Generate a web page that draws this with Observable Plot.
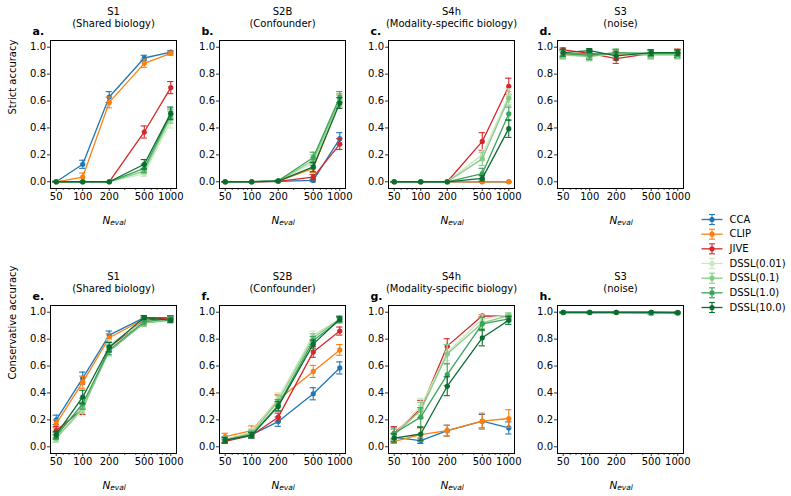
<!DOCTYPE html>
<html>
<head>
<meta charset="utf-8">
<script src="https://cdn.jsdelivr.net/npm/d3@7"></script>
<script src="https://cdn.jsdelivr.net/npm/@observablehq/plot@0.6"></script>
<style>
  body { margin: 0; background: #fff; }
  #fig { position: relative; width: 791px; height: 496px; background: #fff; font-family: "DejaVu Sans", sans-serif; }
  #fig svg { position: absolute; overflow: visible; background: none; }
</style>
</head>
<body>
<div id="fig"></div>
<script>
// Evaluation set sizes (x axis) and methods
const nEval = [50, 100, 200, 500, 1000];
const minorTicks = [60, 70, 80, 90, 300, 400, 600, 700, 800, 900];
const methods = ["CCA", "CLIP", "JIVE", "DSSL(0.01)", "DSSL(0.1)", "DSSL(1.0)", "DSSL(10.0)"];
const methodColors = ["#1f77b4", "#ff7f0e", "#d62728", "#c9e8c1", "#86cc84", "#3ba35a", "#0a6d32"];

const scenarios = ["S1", "S2B", "S4h", "S3"];
const scenarioNotes = ["(Shared biology)", "(Confounder)", "(Modality-specific biology)", "(noise)"];
const panelLetters = [["a.", "b.", "c.", "d."], ["e.", "f.", "g.", "h."]];
const metricLabels = ["Strict accuracy", "Conservative accuracy"];
const yTicks = [0, 0.2, 0.4, 0.6, 0.8, 1.0];

// Strict accuracy: one row per method, columns follow nEval
const strictS1 = [
  [0.0, 0.13, 0.63, 0.92, 0.963],
  [0.0, 0.035, 0.59, 0.88, 0.955],
  [0.0, 0.0, 0.0, 0.37, 0.70],
  [0.0, 0.0, 0.0, 0.06, 0.45],
  [0.0, 0.0, 0.0, 0.08, 0.48],
  [0.0, 0.0, 0.0, 0.10, 0.50],
  [0.0, 0.0, 0.0, 0.13, 0.51]
];
const strictS1Err = [
  [0.005, 0.03, 0.04, 0.02, 0.012],
  [0.005, 0.03, 0.04, 0.03, 0.015],
  [0, 0, 0, 0.045, 0.045],
  [0, 0, 0, 0.02, 0.05],
  [0, 0, 0, 0.02, 0.045],
  [0, 0, 0, 0.03, 0.04],
  [0, 0, 0, 0.035, 0.045]
];
const strictS2B = [
  [0.0, 0.0, 0.003, 0.01, 0.32],
  [0.0, 0.0, 0.005, 0.10, 0.60],
  [0.0, 0.0, 0.003, 0.035, 0.28],
  [0.0, 0.0, 0.005, 0.14, 0.60],
  [0.0, 0.0, 0.005, 0.16, 0.61],
  [0.0, 0.0, 0.008, 0.18, 0.63],
  [0.0, 0.0, 0.005, 0.11, 0.585]
];
const strictS2BErr = [
  [0, 0, 0.003, 0.01, 0.045],
  [0, 0, 0.004, 0.03, 0.045],
  [0, 0, 0.003, 0.02, 0.04],
  [0, 0, 0.004, 0.04, 0.045],
  [0, 0, 0.004, 0.04, 0.045],
  [0, 0, 0.005, 0.04, 0.04],
  [0, 0, 0.004, 0.035, 0.04]
];
const strictS4h = [
  [0, 0, 0, 0, 0],
  [0, 0, 0, 0, 0],
  [0, 0, 0, 0.30, 0.71],
  [0, 0, 0, 0.20, 0.64],
  [0, 0, 0, 0.17, 0.62],
  [0, 0, 0, 0.06, 0.505],
  [0, 0, 0, 0.025, 0.395]
];
const strictS4hErr = [
  [0, 0, 0, 0, 0],
  [0, 0, 0, 0, 0],
  [0, 0, 0, 0.065, 0.06],
  [0, 0, 0, 0.04, 0.05],
  [0, 0, 0, 0.05, 0.05],
  [0, 0, 0, 0.04, 0.05],
  [0, 0, 0, 0.02, 0.065]
];
const strictS3 = [
  [0.95, 0.95, 0.95, 0.95, 0.95],
  [0.95, 0.94, 0.95, 0.94, 0.965],
  [0.98, 0.955, 0.915, 0.955, 0.955],
  [0.94, 0.93, 0.955, 0.94, 0.94],
  [0.945, 0.93, 0.96, 0.945, 0.945],
  [0.955, 0.94, 0.96, 0.955, 0.955],
  [0.96, 0.975, 0.935, 0.96, 0.96]
];
const strictS3Err = [
  [0.03, 0.03, 0.03, 0.03, 0.03],
  [0.03, 0.03, 0.03, 0.03, 0.02],
  [0.015, 0.025, 0.035, 0.025, 0.03],
  [0.03, 0.03, 0.03, 0.03, 0.03],
  [0.03, 0.03, 0.025, 0.03, 0.03],
  [0.025, 0.03, 0.025, 0.025, 0.025],
  [0.025, 0.015, 0.03, 0.02, 0.02]
];

// Conservative accuracy
const consS1 = [
  [0.20, 0.51, 0.83, 0.96, 0.96],
  [0.17, 0.48, 0.81, 0.95, 0.955],
  [0.12, 0.28, 0.74, 0.94, 0.96],
  [0.07, 0.27, 0.76, 0.93, 0.94],
  [0.06, 0.29, 0.71, 0.92, 0.94],
  [0.08, 0.32, 0.72, 0.93, 0.95],
  [0.09, 0.37, 0.74, 0.96, 0.94]
];
const consS1Err = [
  [0.035, 0.045, 0.03, 0.015, 0.015],
  [0.03, 0.045, 0.03, 0.02, 0.015],
  [0.03, 0.04, 0.035, 0.02, 0.015],
  [0.025, 0.04, 0.035, 0.025, 0.02],
  [0.025, 0.04, 0.035, 0.025, 0.02],
  [0.025, 0.04, 0.035, 0.025, 0.02],
  [0.025, 0.05, 0.035, 0.015, 0.015]
];
const consS2B = [
  [0.05, 0.09, 0.187, 0.394, 0.586],
  [0.075, 0.12, 0.35, 0.56, 0.72],
  [0.04, 0.085, 0.22, 0.705, 0.86],
  [0.055, 0.11, 0.36, 0.83, 0.95],
  [0.055, 0.10, 0.34, 0.81, 0.95],
  [0.05, 0.09, 0.31, 0.79, 0.94],
  [0.05, 0.085, 0.30, 0.763, 0.95]
];
const consS2BErr = [
  [0.015, 0.02, 0.035, 0.045, 0.045],
  [0.025, 0.035, 0.04, 0.045, 0.04],
  [0.015, 0.02, 0.03, 0.04, 0.03],
  [0.02, 0.025, 0.04, 0.03, 0.02],
  [0.02, 0.025, 0.04, 0.03, 0.02],
  [0.02, 0.025, 0.04, 0.03, 0.02],
  [0.02, 0.02, 0.035, 0.03, 0.02]
];
const consS4h = [
  [0.07, 0.045, 0.12, 0.19, 0.14],
  [0.04, 0.09, 0.12, 0.19, 0.21],
  [0.10, 0.28, 0.748, 0.973, 0.97],
  [0.09, 0.30, 0.70, 0.95, 0.98],
  [0.09, 0.27, 0.69, 0.92, 0.975],
  [0.10, 0.22, 0.536, 0.913, 0.95],
  [0.065, 0.095, 0.45, 0.81, 0.94]
];
const consS4hErr = [
  [0.03, 0.02, 0.04, 0.05, 0.045],
  [0.015, 0.05, 0.04, 0.06, 0.065],
  [0.05, 0.065, 0.055, 0.01, 0.01],
  [0.04, 0.06, 0.06, 0.03, 0.015],
  [0.04, 0.06, 0.07, 0.04, 0.02],
  [0.04, 0.07, 0.08, 0.05, 0.02],
  [0.03, 0.05, 0.07, 0.06, 0.03]
];
const consS3 = [
  [0.998, 0.998, 0.998, 0.99, 0.995],
  [0.998, 0.998, 0.998, 0.998, 0.997],
  [1.0, 1.0, 1.0, 1.0, 1.0],
  [0.995, 0.995, 0.996, 0.995, 0.99],
  [0.997, 0.997, 0.997, 0.997, 0.993],
  [0.998, 0.998, 0.998, 0.998, 0.996],
  [0.999, 0.999, 0.999, 0.999, 0.997]
];
const consS3Err = [
  [0.004, 0.004, 0.004, 0.008, 0.005],
  [0.004, 0.004, 0.004, 0.004, 0.005],
  [0.001, 0.001, 0.001, 0.001, 0.001],
  [0.006, 0.006, 0.005, 0.006, 0.008],
  [0.004, 0.004, 0.004, 0.004, 0.006],
  [0.003, 0.003, 0.003, 0.003, 0.004],
  [0.002, 0.002, 0.002, 0.002, 0.004]
];

const grid = [
  [[strictS1, strictS1Err], [strictS2B, strictS2BErr], [strictS4h, strictS4hErr], [strictS3, strictS3Err]],
  [[consS1, consS1Err], [consS2B, consS2BErr], [consS4h, consS4hErr], [consS3, consS3Err]]
];

// Panel geometry
const frameW = 126, frameH = 148, colStep = 169, firstLeft = 50;
const rowLayout = [
  { top: 0, height: 240, marginTop: 40 },
  { top: 240, height: 256, marginTop: 65 }
];
const marginL = 50, marginR = 14;
// 5% padding of the log range on each side
const logPad = Math.pow(10, 0.05 * Math.log10(1000 / 50));
const capFactor = 1.085;
const font = "DejaVu Sans";

function panel(means, errs, row, col) {
  const L = rowLayout[row];
  const marks = [
    Plot.axisX({ ticks: minorTicks, tickSize: 2, tickFormat: () => "", label: null, strokeWidth: 0.7 }),
    Plot.axisX({ ticks: nEval, tickSize: 3, tickPadding: 1, tickFormat: d => String(d), label: null, strokeWidth: 0.8 }),
    Plot.axisY({ ticks: yTicks, tickSize: 3, tickPadding: 1.5, tickFormat: d3.format(".1f"), label: null, strokeWidth: 0.8 })
  ];
  methods.forEach((name, m) => {
    const d = nEval.map((n, i) => ({ n, v: means[m][i], e: errs[m][i] }));
    const c = methodColors[m];
    marks.push(
      Plot.line(d, { x: "n", y: "v", stroke: c, strokeWidth: 1.3 }),
      Plot.ruleX(d, { x: "n", y1: r => r.v - r.e, y2: r => r.v + r.e, stroke: c, strokeWidth: 1.1 }),
      Plot.ruleY(d, { y: r => r.v - r.e, x1: r => r.n / capFactor, x2: r => r.n * capFactor, stroke: c, strokeWidth: 1.1 }),
      Plot.ruleY(d, { y: r => r.v + r.e, x1: r => r.n / capFactor, x2: r => r.n * capFactor, stroke: c, strokeWidth: 1.1 }),
      Plot.dot(d, { x: "n", y: "v", r: 2.6, fill: c, stroke: null })
    );
  });
  marks.push(
    Plot.frame({ stroke: "black", strokeWidth: 1 }),
    Plot.text([scenarios[col]], { text: d => d, frameAnchor: "top", dy: -29, fontSize: 10, lineAnchor: "middle" }),
    Plot.text([scenarioNotes[col]], { text: d => d, frameAnchor: "top", dy: -17, fontSize: 10, lineAnchor: "middle" }),
    Plot.text([panelLetters[row][col]], { text: d => d, frameAnchor: "top-left", dx: -18, dy: -9, fontSize: 11, fontWeight: "bold", textAnchor: "start", lineAnchor: "middle" }),
    Plot.text(["N"], { text: d => d, frameAnchor: "bottom", dx: -11, dy: 32, fontSize: 10.5, fontStyle: "italic", textAnchor: "start", lineAnchor: "middle" }),
    Plot.text(["eval"], { text: d => d, frameAnchor: "bottom", dx: -3.3, dy: 34.5, fontSize: 7.5, fontStyle: "italic", textAnchor: "start", lineAnchor: "middle" })
  );
  if (col === 0) {
    marks.push(Plot.text([metricLabels[row]], { text: d => d, frameAnchor: "left", dx: -38, rotate: -90, fontSize: 10, lineAnchor: "middle" }));
  }
  const svg = Plot.plot({
    width: marginL + frameW + marginR,
    height: L.height,
    marginLeft: marginL,
    marginRight: marginR,
    marginTop: L.marginTop,
    marginBottom: L.height - L.marginTop - frameH,
    style: { fontFamily: font, fontSize: "10px", color: "black", background: "none", overflow: "visible" },
    x: { type: "log", domain: [50 / logPad, 1000 * logPad] },
    y: { domain: [-0.05, 1.05] },
    marks
  });
  svg.style.left = (firstLeft + col * colStep - marginL) + "px";
  svg.style.top = L.top + "px";
  return svg;
}

const fig = document.getElementById("fig");
grid.forEach((rowPanels, row) => rowPanels.forEach(([means, errs], col) => fig.appendChild(panel(means, errs, row, col))));

// Legend: line + marker + error bar glyph per method
const legendIdx = methods.map((name, i) => ({ name, i }));
const legend = Plot.plot({
  width: 101, height: 115,
  margin: 0,
  style: { fontFamily: font, fontSize: "10px", color: "black", background: "none", overflow: "visible" },
  x: { domain: [0, 1], range: [11, 32], axis: null },
  y: { domain: [0, 6], range: [14, 102], axis: null },
  marks: [
    Plot.link(legendIdx, { x1: 0, x2: 1, y1: "i", y2: "i", stroke: d => methodColors[d.i], strokeWidth: 1.3 }),
    Plot.link(legendIdx, { x1: 0.5, x2: 0.5, y1: d => d.i - 0.34, y2: d => d.i + 0.34, stroke: d => methodColors[d.i], strokeWidth: 1.1 }),
    Plot.link(legendIdx, { x1: 0.36, x2: 0.64, y1: d => d.i - 0.34, y2: d => d.i - 0.34, stroke: d => methodColors[d.i], strokeWidth: 1.1 }),
    Plot.link(legendIdx, { x1: 0.36, x2: 0.64, y1: d => d.i + 0.34, y2: d => d.i + 0.34, stroke: d => methodColors[d.i], strokeWidth: 1.1 }),
    Plot.dot(legendIdx, { x: 0.5, y: "i", r: 2.6, fill: d => methodColors[d.i], stroke: null }),
    Plot.text(legendIdx, { x: 1, y: "i", text: "name", dx: 7, textAnchor: "start", fontSize: 10 })
  ]
});
legend.style.left = "690px";
legend.style.top = "205px";
fig.appendChild(legend);
</script>
</body>
</html>
